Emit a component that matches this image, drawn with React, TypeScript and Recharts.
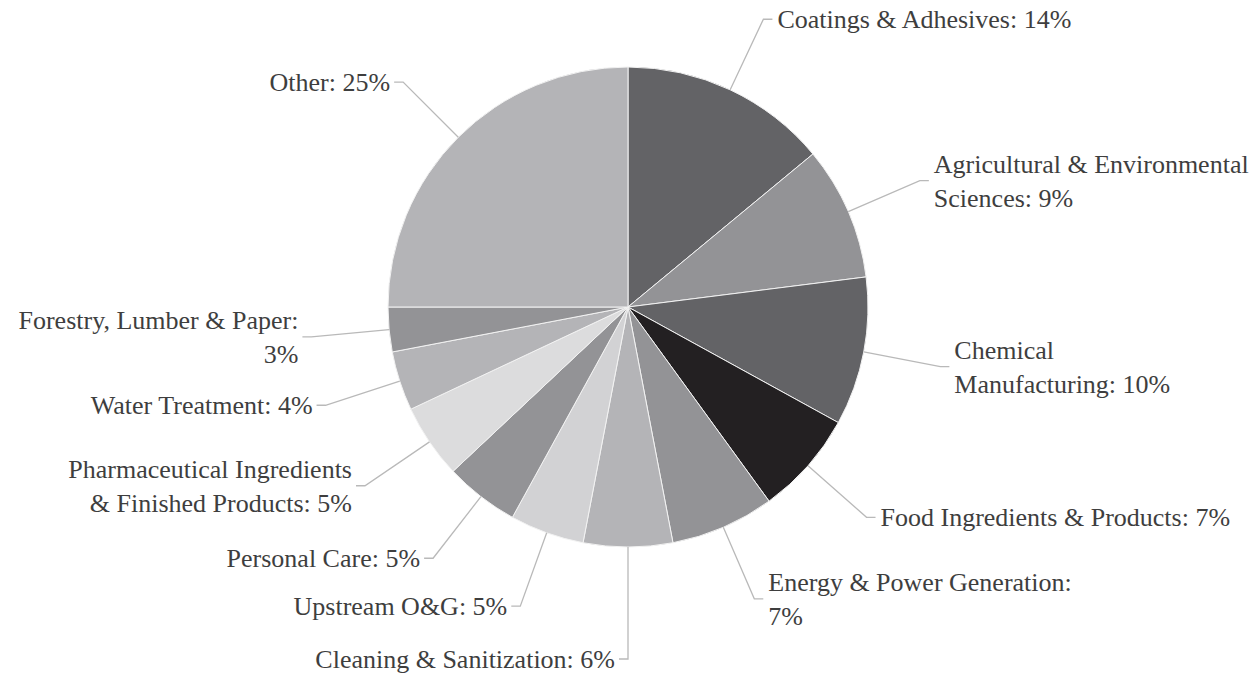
import { PieChart, Pie, Cell } from 'recharts';

const categories = [
  'Coatings & Adhesives',
  'Agricultural & Environmental Sciences',
  'Chemical Manufacturing',
  'Food Ingredients & Products',
  'Energy & Power Generation',
  'Cleaning & Sanitization',
  'Upstream O&G',
  'Personal Care',
  'Pharmaceutical Ingredients & Finished Products',
  'Water Treatment',
  'Forestry, Lumber & Paper',
  'Other',
];

const shares = [14, 9, 10, 7, 7, 6, 5, 5, 5, 4, 3, 25];

// words kept on the first label line (0 = single line)
const firstLineWords = [0, 3, 1, 0, 4, 0, 0, 0, 2, 0, 4, 0];

const sliceColors = [
  '#636366',
  '#939396',
  '#636366',
  '#232022',
  '#939396',
  '#b4b4b7',
  '#d2d2d4',
  '#939396',
  '#dcdcdd',
  '#b4b4b7',
  '#939396',
  '#b4b4b7',
];

const data = categories.map((name, i) => ({ name, value: shares[i] }));

const RADIAN = Math.PI / 180;
const SERIF = 'Liberation Serif';

function renderLabel(props: any) {
  const { cx, cy, midAngle, outerRadius, index, name, value } = props;
  const cos = Math.cos(-midAngle * RADIAN);
  const sin = Math.sin(-midAngle * RADIAN);
  const reach = index === 5 ? 112 : 78;
  const sx = cx + outerRadius * cos;
  const sy = cy + outerRadius * sin;
  const ex = cx + (outerRadius + reach) * cos;
  const ey = cy + (outerRadius + reach) * sin;
  const right = cos > 0.01;
  const tx = ex + (right ? 9 : -9);
  const textX = tx + (right ? 5 : -4);

  const words = `${name}: ${value}%`.split(' ');
  const n = firstLineWords[index];
  const lines = n > 0 ? [words.slice(0, n).join(' '), words.slice(n).join(' ')] : [words.join(' ')];
  const lineGap = 34;
  const top = ey - ((lines.length - 1) * lineGap) / 2;

  return (
    <g key={`lbl-${index}`}>
      <polyline
        points={`${sx},${sy} ${ex},${ey} ${tx},${ey}`}
        fill="none"
        stroke="#b9b9b9"
        strokeWidth={1.3}
      />
      <text
        x={textX}
        y={top}
        textAnchor={right ? 'start' : 'end'}
        dominantBaseline="central"
        fill="#3e3e3e"
        style={{ fontFamily: SERIF, fontSize: '26px' }}
      >
        {lines.map((line, k) => (
          <tspan key={k} x={textX} dy={k === 0 ? 0 : lineGap}>
            {line}
          </tspan>
        ))}
      </text>
    </g>
  );
}

export default function App() {
  return (
    <div
      style={{
        position: 'absolute',
        left: 0,
        top: 0,
        width: 1258,
        height: 677,
        background: '#fff',
        fontFamily: SERIF,
      }}
    >
      <PieChart width={1258} height={677} margin={{ top: 0, right: 0, bottom: 0, left: 0 }}>
        <Pie
          data={data}
          dataKey="value"
          nameKey="name"
          cx={628}
          cy={307}
          outerRadius={240}
          startAngle={90}
          endAngle={-270}
          stroke="#f2f2f2"
          strokeWidth={1}
          label={renderLabel}
          labelLine={false}
          isAnimationActive={false}
        >
          {data.map((d, i) => (
            <Cell key={d.name} fill={sliceColors[i]} />
          ))}
        </Pie>
      </PieChart>
    </div>
  );
}
